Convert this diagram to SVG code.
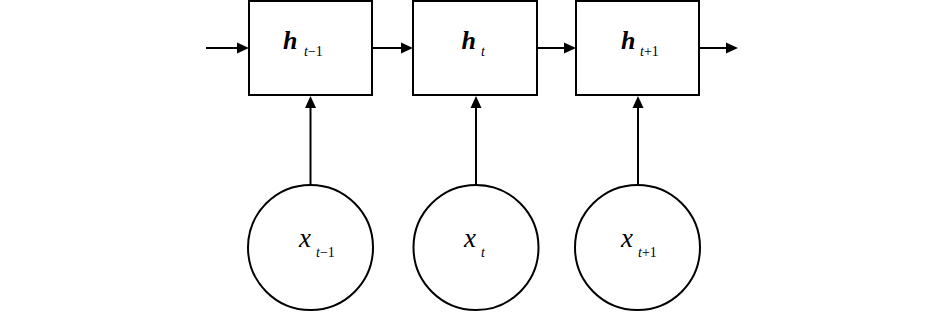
<svg xmlns="http://www.w3.org/2000/svg" xmlns:xlink="http://www.w3.org/1999/xlink" width="945" height="312" viewBox="0 0 945 312">
<style>
.box{fill:#fff;stroke:#000;stroke-width:2}
.circ{fill:#fff;stroke:#000;stroke-width:2}
.edge{stroke:#000;stroke-width:2;fill:none}
</style>
<defs>
<path id="ah" d="M0,0 L-12,-5.5 L-12,5.5 Z" fill="#000"/>
</defs>
<rect width="945" height="312" fill="#fff"/>
<g id="connectors">
<line class="edge" x1="206" y1="48" x2="238" y2="48"/>
<use href="#ah" xlink:href="#ah" transform="translate(249,48)"/>
<line class="edge" x1="372" y1="48" x2="402" y2="48"/>
<use href="#ah" xlink:href="#ah" transform="translate(413,48)"/>
<line class="edge" x1="537" y1="48" x2="565" y2="48"/>
<use href="#ah" xlink:href="#ah" transform="translate(576,48)"/>
<line class="edge" x1="699" y1="48" x2="727" y2="48"/>
<use href="#ah" xlink:href="#ah" transform="translate(738,48)"/>
<line class="edge" x1="310.5" y1="185" x2="310.5" y2="107"/>
<use href="#ah" xlink:href="#ah" transform="translate(310.5,96) rotate(-90)"/>
<line class="edge" x1="476" y1="185" x2="476" y2="107"/>
<use href="#ah" xlink:href="#ah" transform="translate(476,96) rotate(-90)"/>
<line class="edge" x1="638" y1="185" x2="638" y2="107"/>
<use href="#ah" xlink:href="#ah" transform="translate(638,96) rotate(-90)"/>
</g>
<g id="h_prev">
<rect class="box" x="249" y="1" width="123" height="94"/>
<text x="283" y="49" font-family="Liberation Serif" font-size="26" font-style="italic" font-weight="bold">h<tspan x="304" y="56" font-size="14" font-weight="normal">t</tspan><tspan font-size="14" font-weight="normal" font-style="normal">−1</tspan></text>
</g>
<g id="h_cur">
<rect class="box" x="413" y="1" width="124" height="94"/>
<text x="461.5" y="49" font-family="Liberation Serif" font-size="26" font-style="italic" font-weight="bold">h<tspan x="481" y="56" font-size="14" font-weight="normal">t</tspan></text>
</g>
<g id="h_next">
<rect class="box" x="576" y="1" width="123" height="94"/>
<text x="621" y="49" font-family="Liberation Serif" font-size="26" font-style="italic" font-weight="bold">h<tspan x="640" y="56" font-size="14" font-weight="normal">t</tspan><tspan font-size="14" font-weight="normal" font-style="normal">+1</tspan></text>
</g>
<g id="x_prev">
<circle class="circ" cx="310.5" cy="247.5" r="62.5"/>
<text x="299" y="247" font-family="Liberation Serif" font-size="27" font-style="italic">x<tspan x="316" y="257" font-size="14">t</tspan><tspan font-size="14" font-style="normal">−1</tspan></text>
</g>
<g id="x_cur">
<circle class="circ" cx="476" cy="247.5" r="62.5"/>
<text x="464" y="247" font-family="Liberation Serif" font-size="27" font-style="italic">x<tspan x="481" y="257" font-size="14">t</tspan></text>
</g>
<g id="x_next">
<circle class="circ" cx="637.5" cy="247.5" r="62.5"/>
<text x="621" y="247" font-family="Liberation Serif" font-size="27" font-style="italic">x<tspan x="638" y="257" font-size="14">t</tspan><tspan font-size="14" font-style="normal">+1</tspan></text>
</g>
</svg>
